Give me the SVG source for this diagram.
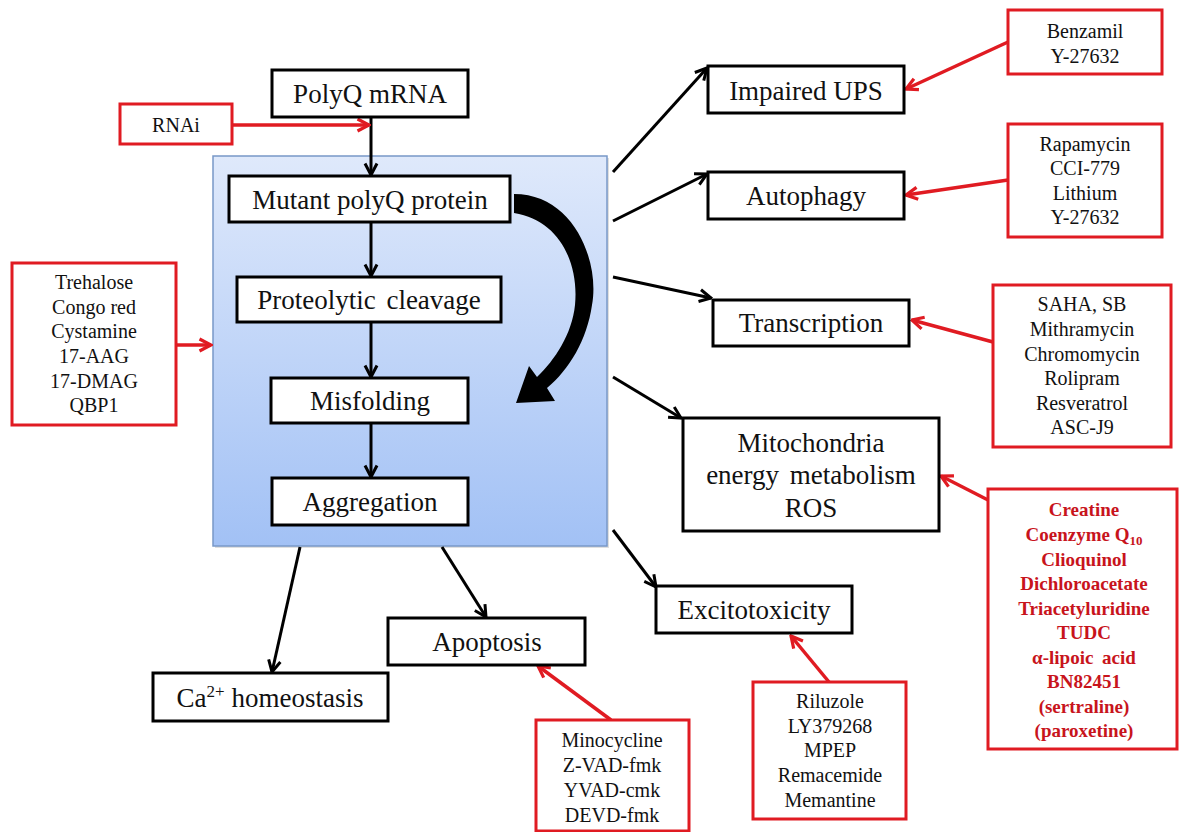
<svg xmlns="http://www.w3.org/2000/svg" width="1179" height="832" viewBox="0 0 1179 832">
<defs>
  <linearGradient id="blueGrad" x1="0" y1="0" x2="0" y2="1">
    <stop offset="0" stop-color="#dfe9fb"/>
    <stop offset="1" stop-color="#a2c1f5"/>
  </linearGradient>
  <marker id="arrBlack" markerUnits="userSpaceOnUse" markerWidth="16" markerHeight="16" viewBox="0 0 16 16" refX="14.5" refY="8" orient="auto">
    <path d="M3,2 L14.5,8 L3,14" fill="none" stroke="#000" stroke-width="3" stroke-linejoin="miter"/>
  </marker>
  <marker id="arrRed" markerUnits="userSpaceOnUse" markerWidth="16" markerHeight="16" viewBox="0 0 16 16" refX="14.5" refY="8" orient="auto">
    <path d="M3,2 L14.5,8 L3,14" fill="none" stroke="#e01b22" stroke-width="3.2" stroke-linejoin="miter"/>
  </marker>
</defs>
<style>
  text { font-family: "Liberation Serif", Tinos, "Times New Roman", "DejaVu Serif", serif; }
  .bbox { fill: #fff; stroke: #000; stroke-width: 3; }
  .rbox { fill: #fff; stroke: #e01b22; stroke-width: 3; }
  .lbl { font-size: 27px; font-weight: 400; fill: #111; text-anchor: middle; }
  .drug { font-size: 20px; font-weight: 400; fill: #111; text-anchor: middle; }
  .bold { font-size: 19px; font-weight: 700; fill: #c8141c; text-anchor: middle; }
  .blk { stroke: #000; stroke-width: 3; fill: none; marker-end: url(#arrBlack); }
  .red { stroke: #e01b22; stroke-width: 3.5; fill: none; marker-end: url(#arrRed); }
</style>
<rect width="1179" height="832" fill="#fff"/>

<g id="cell">
  <rect x="215" y="158" width="394" height="390" fill="#c9c9c9" opacity="0.6"/>
  <rect x="213" y="156" width="394" height="390" fill="url(#blueGrad)" stroke="#7898c8" stroke-width="1.5"/>
</g>

<g id="connectors">
  <line class="blk" x1="371" y1="117" x2="371" y2="175"/>
  <line class="blk" x1="371" y1="222" x2="371" y2="276"/>
  <line class="blk" x1="371" y1="322" x2="371" y2="377"/>
  <line class="blk" x1="371" y1="423" x2="371" y2="477"/>
  <path d="M514,194 C574,194 600,262 592,305 C587,340 569,370 547,388 L555,401 L516,403 L529,366 L537,377 C555,360 572,334 575,305 C579,264 560,220 514,213 Z" fill="#000"/>
  <line class="blk" x1="613" y1="172" x2="707" y2="68"/>
  <line class="blk" x1="613" y1="221" x2="707" y2="174"/>
  <line class="blk" x1="613" y1="277" x2="711" y2="298"/>
  <line class="blk" x1="613" y1="377" x2="681" y2="418"/>
  <line class="blk" x1="613" y1="530" x2="656" y2="587"/>
  <line class="blk" x1="442" y1="547" x2="486" y2="617"/>
  <line class="blk" x1="300" y1="547" x2="272" y2="672"/>
  <line class="red" x1="232" y1="125" x2="369" y2="125"/>
  <line class="red" x1="176" y1="345" x2="211" y2="345"/>
  <line class="red" x1="1008" y1="42" x2="906" y2="89"/>
  <line class="red" x1="1008" y1="180" x2="906" y2="195"/>
  <line class="red" x1="993" y1="342" x2="912" y2="320"/>
  <line class="red" x1="988" y1="500" x2="941" y2="476"/>
  <line class="red" x1="829" y1="682" x2="791" y2="636"/>
  <line class="red" x1="611" y1="720" x2="538" y2="666"/>
</g>

<g id="polyq-mrna">
  <rect class="bbox" x="272" y="70" width="196" height="47"/>
  <text class="lbl" x="370" y="103">PolyQ mRNA</text>
</g>
<g id="mutant-protein">
  <rect class="bbox" x="229" y="176" width="281" height="46"/>
  <text class="lbl" x="370" y="209">Mutant polyQ protein</text>
</g>
<g id="proteolytic-cleavage">
  <rect class="bbox" x="237" y="277" width="264" height="45"/>
  <text class="lbl" x="369" y="309" word-spacing="4">Proteolytic cleavage</text>
</g>
<g id="misfolding">
  <rect class="bbox" x="271" y="378" width="197" height="45"/>
  <text class="lbl" x="370" y="410">Misfolding</text>
</g>
<g id="aggregation">
  <rect class="bbox" x="272" y="478" width="196" height="47"/>
  <text class="lbl" x="370" y="511">Aggregation</text>
</g>

<g id="rnai">
  <rect class="rbox" x="120" y="104" width="112" height="40"/>
  <text class="drug" x="176" y="132">RNAi</text>
</g>
<g id="aggregation-inhibitors">
  <rect class="rbox" x="12" y="263" width="164" height="162"/>
  <text class="drug" x="94" y="289">Trehalose</text>
  <text class="drug" x="94" y="314">Congo red</text>
  <text class="drug" x="94" y="338">Cystamine</text>
  <text class="drug" x="94" y="363">17-AAG</text>
  <text class="drug" x="94" y="388">17-DMAG</text>
  <text class="drug" x="94" y="412">QBP1</text>
</g>

<g id="impaired-ups">
  <rect class="bbox" x="708" y="66" width="196" height="47"/>
  <text class="lbl" x="806" y="100">Impaired UPS</text>
</g>
<g id="ups-drugs">
  <rect class="rbox" x="1008" y="10" width="154" height="64"/>
  <text class="drug" x="1085" y="38">Benzamil</text>
  <text class="drug" x="1085" y="63">Y-27632</text>
</g>
<g id="autophagy">
  <rect class="bbox" x="708" y="172" width="196" height="47"/>
  <text class="lbl" x="806" y="205">Autophagy</text>
</g>
<g id="autophagy-drugs">
  <rect class="rbox" x="1008" y="124" width="154" height="113"/>
  <text class="drug" x="1085" y="151">Rapamycin</text>
  <text class="drug" x="1085" y="175">CCI-779</text>
  <text class="drug" x="1085" y="200">Lithium</text>
  <text class="drug" x="1085" y="224">Y-27632</text>
</g>
<g id="transcription">
  <rect class="bbox" x="713" y="300" width="196" height="46"/>
  <text class="lbl" x="811" y="332">Transcription</text>
</g>
<g id="transcription-drugs">
  <rect class="rbox" x="993" y="285" width="178" height="162"/>
  <text class="drug" x="1082" y="311">SAHA, SB</text>
  <text class="drug" x="1082" y="336">Mithramycin</text>
  <text class="drug" x="1082" y="361">Chromomycin</text>
  <text class="drug" x="1082" y="385">Rolipram</text>
  <text class="drug" x="1082" y="410">Resveratrol</text>
  <text class="drug" x="1082" y="434">ASC-J9</text>
</g>
<g id="mitochondria">
  <rect class="bbox" x="683" y="418" width="256" height="113"/>
  <text class="lbl" x="811" y="452">Mitochondria</text>
  <text class="lbl" x="811" y="484" word-spacing="4">energy metabolism</text>
  <text class="lbl" x="811" y="517">ROS</text>
</g>
<g id="mitochondria-drugs">
  <rect class="rbox" x="988" y="489" width="189" height="260"/>
  <text class="bold" x="1084" y="516">Creatine</text>
  <text class="bold" x="1084" y="541">Coenzyme Q<tspan font-size="13" dy="4">10</tspan></text>
  <text class="bold" x="1084" y="566">Clioquinol</text>
  <text class="bold" x="1084" y="590">Dichloroacetate</text>
  <text class="bold" x="1084" y="615">Triacetyluridine</text>
  <text class="bold" x="1084" y="639">TUDC</text>
  <text class="bold" x="1084" y="664" word-spacing="4">α-lipoic acid</text>
  <text class="bold" x="1084" y="688">BN82451</text>
  <text class="bold" x="1084" y="713">(sertraline)</text>
  <text class="bold" x="1084" y="737">(paroxetine)</text>
</g>
<g id="excitotoxicity">
  <rect class="bbox" x="656" y="586" width="196" height="47"/>
  <text class="lbl" x="754" y="619">Excitotoxicity</text>
</g>
<g id="excitotoxicity-drugs">
  <rect class="rbox" x="753" y="682" width="153" height="137"/>
  <text class="drug" x="830" y="708">Riluzole</text>
  <text class="drug" x="830" y="733">LY379268</text>
  <text class="drug" x="830" y="757">MPEP</text>
  <text class="drug" x="830" y="782">Remacemide</text>
  <text class="drug" x="830" y="807">Memantine</text>
</g>
<g id="apoptosis">
  <rect class="bbox" x="388" y="618" width="197" height="47"/>
  <text class="lbl" x="487" y="651">Apoptosis</text>
</g>
<g id="apoptosis-drugs">
  <rect class="rbox" x="536" y="720" width="153" height="111"/>
  <text class="drug" x="612" y="747">Minocycline</text>
  <text class="drug" x="612" y="772">Z-VAD-fmk</text>
  <text class="drug" x="612" y="797">YVAD-cmk</text>
  <text class="drug" x="612" y="822">DEVD-fmk</text>
</g>
<g id="calcium">
  <rect class="bbox" x="153" y="673" width="235" height="48"/>
  <text class="lbl" x="270" y="707">Ca<tspan font-size="17" dy="-10">2+</tspan><tspan dy="10"> homeostasis</tspan></text>
</g>
</svg>
